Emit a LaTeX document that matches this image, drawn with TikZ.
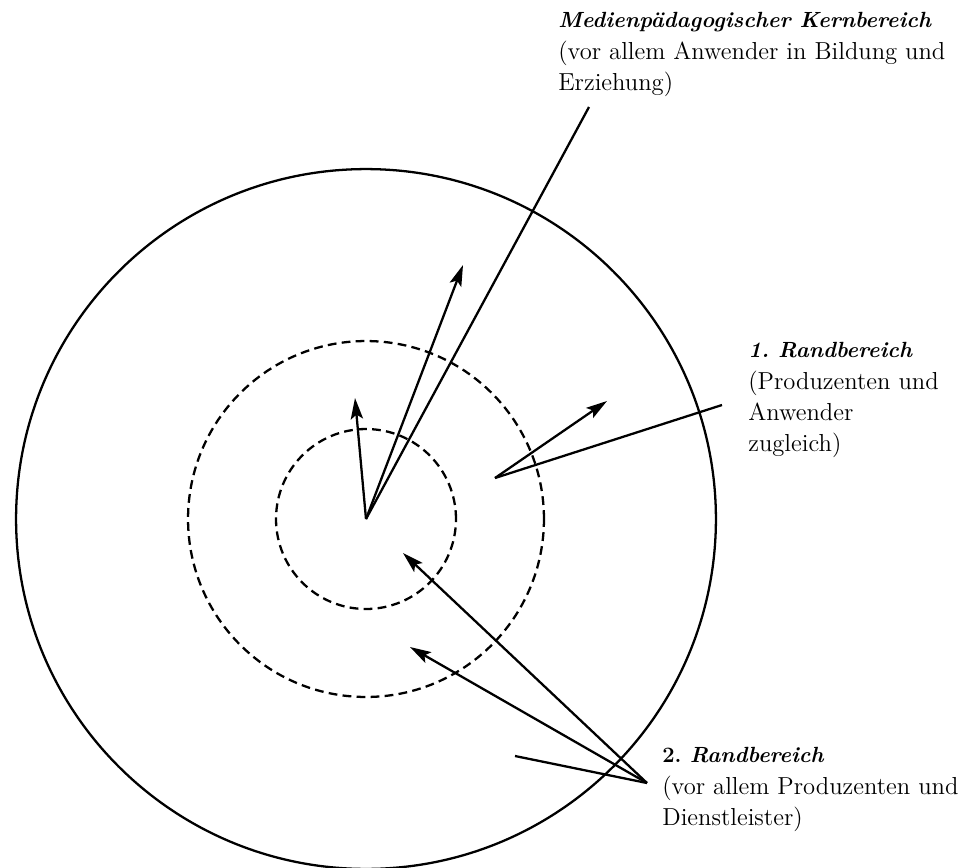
\documentclass[tikz,border=0pt]{standalone}
\usepackage{tikz}
\usetikzlibrary{arrows.meta,positioning}

\newcommand{\kopf}[1]{{\fontsize{12.5}{17.9}\selectfont\bfseries #1}}

\begin{document}
\begin{tikzpicture}[
			x=0.02cm, y=-0.02cm,
			ring/.style={draw, line width=1.3pt},
			dashring/.style={ring, dash pattern=on 5pt off 3pt},
			linie/.style={draw, line width=1.3pt},
			pfeil/.style={linie, -{Stealth[length=12pt, width=7pt, inset=2.5pt]}},
			beschr/.style={anchor=north west, align=left, inner sep=0pt, font=\fontsize{14}{17.9}\selectfont}
			]
			\useasboundingbox (0,0) rectangle (965,867);
			
			% Kreise
			\coordinate (mitte) at (366,519);
			\draw [ring] (mitte) circle [radius=7cm];
			\draw [dashring] (mitte) circle [radius=3.56cm];
			\draw [dashring] (mitte) circle [radius=1.8cm];
			
			% Beschriftungen
			\node [beschr] (kern) at (558,12) {\kopf{\itshape Medienpädagogischer Kernbereich}\\(vor allem Anwender in Bildung und\\Erziehung)};
			\node [beschr] (rand1) at (748,342) {\kopf{\itshape 1.\ Randbereich}\\(Produzenten und\\Anwender\\zugleich)};
			\node [beschr] (rand2) at (662,747) {\kopf{2.\ \itshape Randbereich}\\(vor allem Produzenten und\\Dienstleister)};
			
			% Punkte
			\coordinate (k1) at (355,398);
			\coordinate (k2) at (463,265);
			\coordinate (k3) at (589,107);
			\coordinate (r1) at (495,478);
			\coordinate (r1a) at (607,401);
			\coordinate (r1b) at (722,405);
			\coordinate (r2) at (647,783);
			\coordinate (r2a) at (403,553);
			\coordinate (r2b) at (410,647);
			\coordinate (r2c) at (515,756);
			
			% Pfeile
			\path [pfeil] (mitte) -- (k1);
			\path [pfeil] (mitte) -- (k2);
			\path [linie] (mitte) -- (k3);
			\path [pfeil] (r1) -- (r1a);
			\path [linie] (r1) -- (r1b);
			\path [pfeil] (r2) -- (r2a);
			\path [pfeil] (r2) -- (r2b);
			\path [linie] (r2) -- (r2c);
		\end{tikzpicture}
\end{document}
